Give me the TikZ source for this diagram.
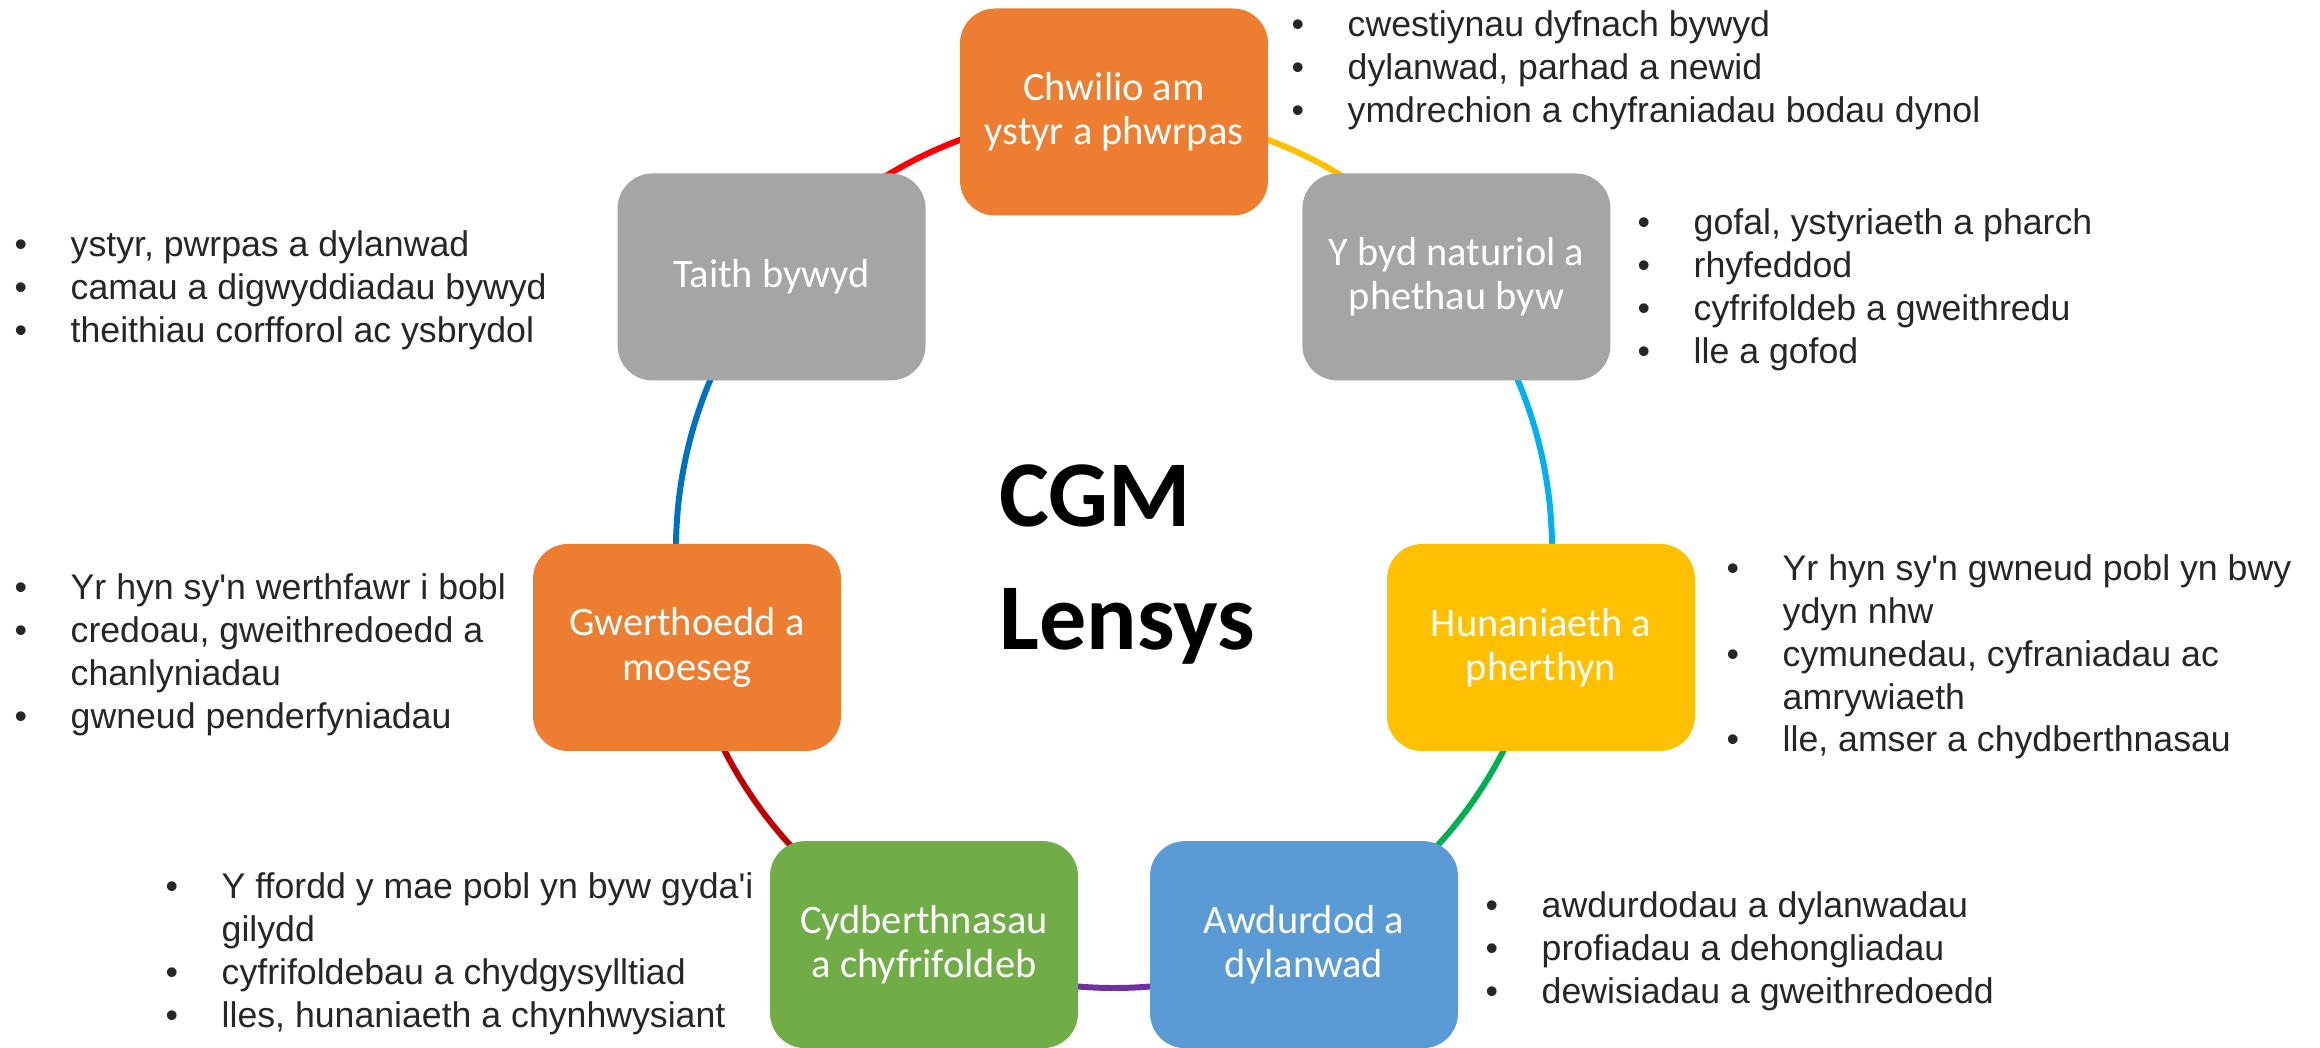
\documentclass[tikz,border=0pt]{standalone}
\usepackage{fontspec}
\setmainfont{Carlito}
\newfontfamily\listfont{Liberation Sans}
\usetikzlibrary{positioning,backgrounds}

\definecolor{lensorange}{HTML}{ED7D31}
\definecolor{lensgrey}{HTML}{A5A5A5}
\definecolor{lensyellow}{HTML}{FFC000}
\definecolor{lensblue}{HTML}{5B9BD5}
\definecolor{lensgreen}{HTML}{70AD47}
\definecolor{ringred}{HTML}{FF0000}
\definecolor{ringgold}{HTML}{FFC000}
\definecolor{ringsky}{HTML}{00B0F0}
\definecolor{ringgreen}{HTML}{00B050}
\definecolor{ringpurple}{HTML}{7030A0}
\definecolor{ringdark}{HTML}{C00000}
\definecolor{ringblue}{HTML}{0070C0}

\tikzset{
  lens/.style={rectangle, rounded corners=0.35cm, minimum width=3.08cm,
    minimum height=2.07cm, inner sep=0, text=white, align=center,
    font=\fontsize{11.5}{12.6}\selectfont},
  points/.style={anchor=north west, inner sep=0, align=left, text=black!85,
    font=\listfont\fontsize{10.15}{12.23}\selectfont},
  ring/.style={line width=1.7pt, bend left=25.7, looseness=0.9}
}
\newcommand{\bul}{\makebox[0.56cm][l]{\textbullet}}
\newcommand{\cont}{\hspace*{0.56cm}}

\begin{document}
\begin{tikzpicture}
  \useasboundingbox (0,0) rectangle (23.2,-10.48);
  \coordinate (mid) at (11.14,-5.50);

  \begin{scope}[shift={(mid)}]
    \node[lens, fill=lensorange] (quest) at (90:4.38) {Chwilio am\\ystyr a phwrpas};
    \node[lens, fill=lensgrey] (nature) at (38.57:4.38) {Y byd naturiol a\\phethau byw};
    \node[lens, fill=lensyellow] (identity) at (-12.86:4.38) {Hunaniaeth a\\pherthyn};
    \node[lens, fill=lensblue] (authority) at (-64.29:4.38) {Awdurdod a\\dylanwad};
    \node[lens, fill=lensgreen] (relations) at (-115.71:4.38) {Cydberthnasau\\a chyfrifoldeb};
    \node[lens, fill=lensorange] (values) at (-167.14:4.38) {Gwerthoedd a\\moeseg};
    \node[lens, fill=lensgrey] (journey) at (141.43:4.38) {Taith bywyd};
  \end{scope}

  \node[anchor=north west, inner sep=0, align=left,
    font=\bfseries\fontsize{26.8}{35}\selectfont] (title) at (9.99,-4.64) {CGM\\Lensys};

  % bullet lists beside each lens
  \node[points] (questlist) at (12.91,-0.10) {\bul cwestiynau dyfnach bywyd\\
    \bul dylanwad, parhad a newid\\\bul ymdrechion a chyfraniadau bodau dynol};
  \node[points] (journeylist) at (0.14,-2.30) {\bul ystyr, pwrpas a dylanwad\\
    \bul camau a digwyddiadau bywyd\\\bul theithiau corfforol ac ysbrydol};
  \node[points] (naturelist) at (16.37,-2.075) {\bul gofal, ystyriaeth a pharch\\
    \bul rhyfeddod\\\bul cyfrifoldeb a gweithredu\\\bul lle a gofod};
  \node[points] (valueslist) at (0.14,-5.725) {\bul Yr hyn sy\textquotesingle n werthfawr i bobl\\
    \bul credoau, gweithredoedd a\\\cont chanlyniadau\\\bul gwneud penderfyniadau};
  \node[points] (identitylist) at (17.26,-5.535) {\bul Yr hyn sy\textquotesingle n gwneud pobl yn bwy\\
    \cont ydyn nhw\\\bul cymunedau, cyfraniadau ac\\\cont amrywiaeth\\
    \bul lle, amser a chydberthnasau};
  \node[points] (relationslist) at (1.65,-8.715) {\bul Y ffordd y mae pobl yn byw gyda\textquotesingle i\\
    \cont gilydd\\\bul cyfrifoldebau a chydgysylltiad\\\bul lles, hunaniaeth a chynhwysiant};
  \node[points] (authoritylist) at (14.85,-8.905) {\bul awdurdodau a dylanwadau\\
    \bul profiadau a dehongliadau\\\bul dewisiadau a gweithredoedd};

  \begin{pgfonlayer}{background}
    \draw[ring, ringgold] (quest.center) to (nature.center);
    \draw[ring, ringsky] (nature.center) to (identity.center);
    \draw[ring, ringgreen] (identity.center) to (authority.center);
    \draw[ring, ringpurple] (authority.center) to (relations.center);
    \draw[ring, ringdark] (relations.center) to (values.center);
    \draw[ring, ringblue] (values.center) to (journey.center);
    \draw[ring, ringred] (journey.center) to (quest.center);
  \end{pgfonlayer}
\end{tikzpicture}
\end{document}
